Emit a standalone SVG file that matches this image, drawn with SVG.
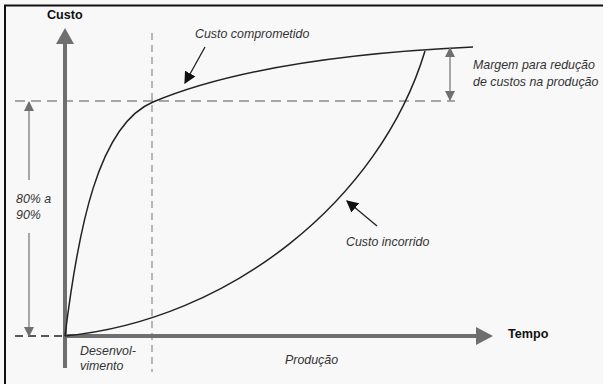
<svg xmlns="http://www.w3.org/2000/svg" width="603" height="384" viewBox="0 0 603 384">
  <style>
    .lbl { font-family: "Liberation Sans", Arial, sans-serif; font-style: italic; font-size: 12.4px; fill: #333; }
    .axl { font-family: "Liberation Sans", Arial, sans-serif; font-weight: bold; font-size: 12.6px; fill: #111; }
    .axis { stroke: #6f6f6f; stroke-width: 4; fill: none; }
    .curve { stroke: #222; stroke-width: 1.5; fill: none; }
    .dash { stroke: #8a8a8a; stroke-width: 1.3; fill: none; stroke-dasharray: 10 6; }
    .vdash { stroke: #8a8a8a; stroke-width: 1.2; fill: none; stroke-dasharray: 7 5; }
    .dim { stroke: #7a7a7a; stroke-width: 1.3; fill: none; }
    .ptr { stroke: #222; stroke-width: 1.3; fill: none; }
  </style>
  <defs>
    <marker id="headGray" viewBox="0 0 10 10" refX="9" refY="5" markerWidth="10" markerHeight="10" markerUnits="userSpaceOnUse" orient="auto">
      <path d="M0,0 L10,5 L0,10 Z" fill="#6f6f6f"/>
    </marker>
    <marker id="headBlack" viewBox="0 0 10 10" refX="9" refY="5" markerWidth="12" markerHeight="12" markerUnits="userSpaceOnUse" orient="auto">
      <path d="M0,0 L10,5 L0,10 Z" fill="#111"/>
    </marker>
  </defs>

  <!-- page background and frame -->
  <rect x="0" y="0" width="603" height="384" fill="#f8f8f8"/>
  <path d="M5,384 V5.5 H603" stroke="#111" stroke-width="2" fill="none"/>

  <!-- reference lines -->
  <g id="guides">
    <line class="vdash" x1="152" y1="33" x2="152" y2="372"/>
    <line class="dash" x1="15" y1="101" x2="455" y2="101"/>
    <line x1="15" y1="336" x2="65" y2="336" stroke="#222" stroke-width="1.3" stroke-dasharray="8 5"/>
  </g>

  <!-- axes -->
  <g id="axes">
    <line class="axis" x1="65" y1="368" x2="65" y2="44"/>
    <path d="M56,44 L65,28 L74,44 Z" fill="#6f6f6f"/>
    <line class="axis" x1="65" y1="336" x2="476" y2="336"/>
    <path d="M476,327 L493,336 L476,345 Z" fill="#6f6f6f"/>
    <text class="axl" x="47" y="19">Custo</text>
    <text class="axl" x="508" y="338">Tempo</text>
  </g>

  <!-- curves -->
  <g id="curves">
    <path id="custo-comprometido" class="curve" d="M65,336 C78,230 98,125 153,102 S300,55 473,47"/>
    <path id="custo-incorrido" class="curve" d="M65,336 C230,320 380,200 425,51"/>
  </g>

  <!-- connectors: pointers and dimension arrows -->
  <g id="connectors">
    <line class="ptr" x1="205" y1="47" x2="185" y2="83" marker-end="url(#headBlack)"/>
    <line class="ptr" x1="377" y1="226" x2="347" y2="201" marker-end="url(#headBlack)"/>
    <line class="dim" x1="450" y1="75" x2="450" y2="48" marker-end="url(#headGray)"/>
    <line class="dim" x1="450" y1="75" x2="450" y2="100" marker-end="url(#headGray)"/>
    <line class="dim" x1="29" y1="180" x2="29" y2="102" marker-end="url(#headGray)"/>
    <line class="dim" x1="29" y1="233" x2="29" y2="336" marker-end="url(#headGray)"/>
  </g>

  <!-- labels -->
  <g id="labels">
    <text class="lbl" x="195" y="38">Custo comprometido</text>
    <text class="lbl" x="346" y="246">Custo incorrido</text>
    <text class="lbl" x="473" y="69">Margem para redução</text>
    <text class="lbl" x="473" y="86">de custos na produção</text>
    <text class="lbl" x="16" y="203">80% a</text>
    <text class="lbl" x="16" y="219">90%</text>
    <text class="lbl" x="80" y="355">Desenvol-</text>
    <text class="lbl" x="80" y="370">vimento</text>
    <text class="lbl" x="285" y="364">Produção</text>
  </g>
</svg>
